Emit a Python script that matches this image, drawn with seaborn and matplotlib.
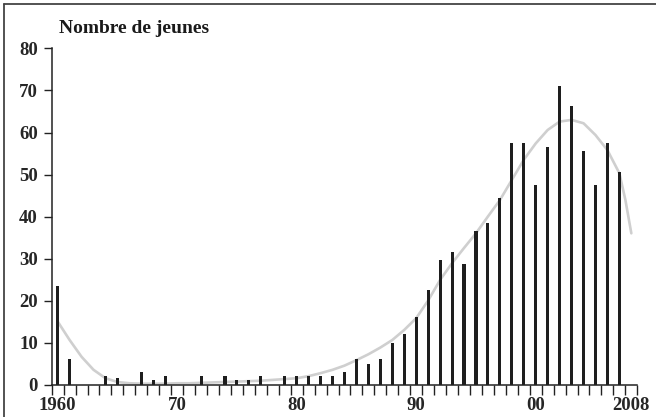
import matplotlib
matplotlib.use("Agg")
import matplotlib.pyplot as plt
import seaborn as sns
import pandas as pd

# nombre de jeunes par annee (1960-2007)
annees = list(range(1960, 2008))
jeunes = [23.5, 6, 0, 0, 2, 1.5, 0, 3, 1, 2,
          0, 0, 2, 0, 2, 1, 1, 2, 0, 2,
          2, 2, 2, 2, 3, 6, 5, 6, 10, 12,
          16, 22.5, 29.7, 31.5, 28.8, 36.6, 38.4, 44.4, 57.5, 57.5,
          47.4, 56.6, 71.1, 66.4, 55.6, 47.4, 57.5, 50.7]

# courbe de tendance (lue point par point)
annees_courbe = list(range(1960, 2008)) + [2007.5, 2008]
courbe = [15, 10.6, 6.6, 3.5, 1.5, 0.6, 0.3, 0.2, 0.2, 0.2,
          0.3, 0.3, 0.4, 0.5, 0.6, 0.7, 0.8, 0.9, 1.1, 1.3,
          1.5, 2, 2.7, 3.5, 4.5, 5.8, 7.2, 8.8, 10.6, 13,
          15.8, 20, 24.9, 28.9, 32.5, 36, 40, 43.9, 48.7, 53.5,
          57.4, 60.6, 62.6, 63, 62.2, 59.4, 55.8, 50.3, 44, 36]

labels_x = ["1960", "70", "80", "90", "00", "2008"]
pos_labels = [1960, 1970, 1980, 1990, 2000, 2008]

df = pd.DataFrame({"annee": annees, "jeunes": jeunes})
dc = pd.DataFrame({"annee": annees_courbe, "val": courbe})

sns.set_style("white")
plt.rcParams["font.family"] = ["Liberation Serif", "DejaVu Serif"]
plt.rcParams["font.weight"] = "bold"

fig = plt.figure(figsize=(6.56, 4.17), dpi=100)
ax = fig.add_axes([0.0788, 0.0779, 0.8927, 0.8058])

sns.lineplot(data=dc, x="annee", y="val", color="#cfcfcf", linewidth=1.9,
             ax=ax, zorder=1)
sns.barplot(data=df, x="annee", y="jeunes", native_scale=True, width=0.26,
            color="#1e1e1e", saturation=1, linewidth=0, ax=ax, zorder=2)

ax.set_xlim(1959.5, 2008.5)
ax.set_ylim(0, 80)
for s in ["top", "right"]:
    ax.spines[s].set_visible(False)
for s in ["left", "bottom"]:
    ax.spines[s].set_color("#222222")
    ax.spines[s].set_linewidth(1.1)

# petits traits aux limites d'annees, etiquettes au milieu
ax.set_xticks([a - 0.5 for a in range(1960, 2010)])
ax.set_xticklabels([])
ax.set_xticks(pos_labels, minor=True)
ax.set_xticklabels(labels_x, minor=True, fontsize=13.5, fontweight="bold")
ax.tick_params(axis="x", which="major", direction="out", length=7.5,
               width=1.0, color="#222222", bottom=True)
ax.tick_params(axis="x", which="minor", length=0, pad=9, bottom=True)

ax.set_yticks(range(0, 81, 10))
ax.set_yticklabels([str(v) for v in range(0, 81, 10)], fontsize=13.5,
                   fontweight="bold")
ax.tick_params(axis="y", direction="out", length=6, width=1.0,
               color="#222222", left=True, pad=4)
ax.set_xlabel("")
ax.set_ylabel("")
ax.grid(False)

fig.text(59 / 656, 1 - 33 / 417, "Nombre de jeunes", fontsize=14,
         fontweight="bold", va="baseline", ha="left", color="#1a1a1a")

# cadre (haut et gauche)
fig.add_artist(plt.Line2D([4 / 656, 4 / 656], [0, 1 - 4 / 417],
                          transform=fig.transFigure, color="#444444", lw=1.3))
fig.add_artist(plt.Line2D([4 / 656, 1], [1 - 4 / 417, 1 - 4 / 417],
                          transform=fig.transFigure, color="#444444", lw=1.3))

fig.savefig("out.png", dpi=100)
